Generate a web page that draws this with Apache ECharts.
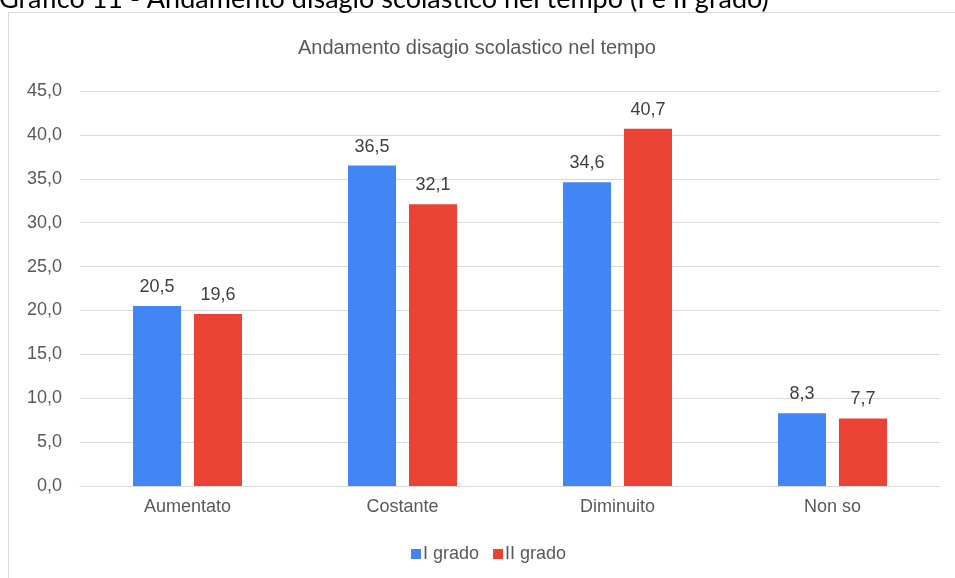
<!DOCTYPE html>
<html>
<head>
<meta charset="utf-8">
<script src="https://cdn.jsdelivr.net/npm/echarts@6/dist/echarts.min.js"></script>
<style>
html,body{margin:0;padding:0;background:#fff;}
#c{width:955px;height:578px;}
</style>
</head>
<body>
<div id="c"></div>
<script>
var categories = ['Aumentato', 'Costante', 'Diminuito', 'Non so'];
var seriesNames = ['I grado', 'II grado'];
var iGrado = [20.5, 36.5, 34.6, 8.3];
var iiGrado = [19.6, 32.1, 40.7, 7.7];
var colors = ['#4285F4', '#EA4335'];

function fmt(v){ return Number(v).toFixed(1).replace('.', ','); }

var FF = '"Liberation Sans", Arial, sans-serif';
var chart = echarts.init(document.getElementById('c'));
var labelStyle = {
  show: true, position: 'top', distance: 10,
  fontFamily: FF, fontSize: 18, color: '#404040',
  formatter: function(p){ return fmt(p.value); }
};
chart.setOption({
  animation: false,
  color: colors,
  graphic: [
    { type: 'rect', shape: { x: 8.5, y: 12.5, width: 1000, height: 700 },
      style: { fill: 'none', stroke: '#d9d9d9', lineWidth: 1 }, z: -10 },
    { type: 'text', left: -1, top: -14,
      style: { text: 'Grafico 11 - Andamento disagio scolastico nel tempo (I e II grado)',
        font: '27px Lato, "Open Sans", sans-serif', fill: '#000' } }
  ],
  title: {
    text: 'Andamento disagio scolastico nel tempo',
    left: 472, top: 33, textAlign: 'center',
    textStyle: { fontFamily: FF, fontSize: 20, fontWeight: 'normal', color: '#595959' }
  },
  legend: {
    top: 540, left: 406, itemWidth: 10, itemHeight: 10, itemGap: 14,
    icon: 'rect',
    textStyle: { fontFamily: FF, fontSize: 18, color: '#595959', padding: [0,0,0,-3] },
    data: seriesNames
  },
  grid: { left: 80, right: 15, top: 91, bottom: 92, containLabel: false },
  xAxis: {
    type: 'category', data: categories,
    axisLine: { lineStyle: { color: '#d9d9d9' } },
    axisTick: { show: false },
    axisLabel: { margin: 12, fontFamily: FF, fontSize: 18, color: '#595959' }
  },
  yAxis: {
    type: 'value', min: 0, max: 45, interval: 5,
    axisLine: { show: false }, axisTick: { show: false },
    splitLine: { lineStyle: { color: '#d9d9d9' } },
    axisLabel: { margin: 18, fontFamily: FF, fontSize: 18, color: '#595959', formatter: fmt }
  },
  series: [
    { name: seriesNames[0], type: 'bar', data: iGrado, barWidth: 48, barGap: '27%', label: labelStyle },
    { name: seriesNames[1], type: 'bar', data: iiGrado, barWidth: 48, label: labelStyle }
  ]
});
</script>
</body>
</html>
